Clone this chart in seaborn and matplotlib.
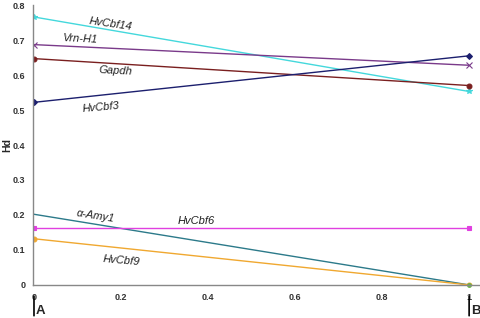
import matplotlib
matplotlib.use("Agg")
import matplotlib.pyplot as plt
import seaborn as sns
import pandas as pd

positions = [0, 1]
genes = ["HvCbf14", "Vrn-H1", "Gapdh", "HvCbf3", "α-Amy1", "HvCbf6", "HvCbf9"]
hvcbf14 = [0.766, 0.553]
vrnh1 = [0.687, 0.628]
gapdh = [0.647, 0.570]
hvcbf3 = [0.522, 0.655]
amy1 = [0.202, 0.0]
hvcbf6 = [0.163, 0.163]
hvcbf9 = [0.132, 0.0]
values = [hvcbf14, vrnh1, gapdh, hvcbf3, amy1, hvcbf6, hvcbf9]

colors = {"HvCbf14": "#44d8dc", "Vrn-H1": "#7a3a8a", "Gapdh": "#7a1f1f",
          "HvCbf3": "#1c1f6e", "α-Amy1": "#2c7a8a", "HvCbf6": "#e040e0",
          "HvCbf9": "#f0a830"}
markers = {"HvCbf14": "*", "Vrn-H1": "x", "Gapdh": "o", "HvCbf3": "D",
           "α-Amy1": "", "HvCbf6": "s", "HvCbf9": "o"}
msize = {"HvCbf14": 4, "Vrn-H1": 4, "Gapdh": 3.5, "HvCbf3": 3,
         "α-Amy1": 0, "HvCbf6": 3.5, "HvCbf9": 3.5}

rows = []
for g, v in zip(genes, values):
    for p, y in zip(positions, v):
        rows.append({"gene": g, "pos": p, "Hd": y})
df = pd.DataFrame(rows)

sns.set_style("white")
plt.rcParams['font.family'] = ['Liberation Sans', 'DejaVu Sans']

fig = plt.figure(figsize=(4.8, 3.18), dpi=100)
ax = fig.add_axes([0.069, 0.104, 0.931, 0.88])

for g in genes:
    sub = df[df.gene == g]
    sns.lineplot(data=sub, x="pos", y="Hd", ax=ax, color=colors[g],
                 marker=markers[g] if markers[g] else None,
                 markersize=msize[g], linewidth=1.0, legend=False,
                 markeredgecolor=colors[g], markeredgewidth=0.8)

# green end marker at B
ax.plot([1], [0.0], marker="o", color="#6ab04c", markersize=2.5, clip_on=False)

ax.set_xlim(-0.002, 1.025)
ax.set_ylim(0, 0.8)
ax.set_xticks([0, 0.2, 0.4, 0.6, 0.8, 1])
ax.set_xticklabels(["0", "0.2", "0.4", "0.6", "0.8", "1"])
ax.set_yticks([0, 0.1, 0.2, 0.3, 0.4, 0.5, 0.6, 0.7, 0.8])
ax.set_yticklabels(["0", "0.1", "0.2", "0.3", "0.4", "0.5", "0.6", "0.7", "0.8"])
ax.tick_params(axis="both", labelsize=6.5, length=2.5, width=0.6, colors="#333333")
for t in ax.get_xticklabels() + ax.get_yticklabels():
    t.set_fontweight("bold")
ax.tick_params(axis="x", direction="out", pad=3)
ax.tick_params(axis="y", direction="out", pad=3)
ax.set_xlabel("")
ax.set_ylabel("Hd", fontsize=7.5, fontweight="bold")
ax.yaxis.set_label_coords(-0.047, 0.5)
for s in ["top", "right"]:
    ax.spines[s].set_visible(False)
for s in ["left", "bottom"]:
    ax.spines[s].set_color("#888888")
    ax.spines[s].set_linewidth(1.0)

lab = dict(fontsize=8, style="italic", color="#222222", ha="center", va="center")
ax.text(0.177, 0.745, "HvCbf14", rotation=-8, **lab)
ax.text(0.106, 0.703, "Vrn-H1", rotation=-3, **lab)
ax.text(0.188, 0.612, "Gapdh", rotation=-3, **lab)
ax.text(0.154, 0.507, "HvCbf3", rotation=5, **lab)
ax.text(0.142, 0.197, "α-Amy1", rotation=-9, **lab)
ax.text(0.372, 0.184, "HvCbf6", rotation=0, **lab)
ax.text(0.200, 0.070, "HvCbf9", rotation=-5, **lab)

# A / B markers below axis
for xp, lbl in [(0, "A"), (1, "B")]:
    ax.annotate("", xy=(xp, -0.03), xycoords=("data", "axes fraction"),
                xytext=(xp, -0.12), textcoords=("data", "axes fraction"),
                arrowprops=dict(arrowstyle="-", color="black", lw=1.2),
                annotation_clip=False)
    ax.text(xp + 0.004, -0.093, lbl, transform=ax.get_xaxis_transform(),
            fontsize=9.5, fontweight="bold", ha="left", va="center", clip_on=False)

fig.savefig("out.png", dpi=100)
